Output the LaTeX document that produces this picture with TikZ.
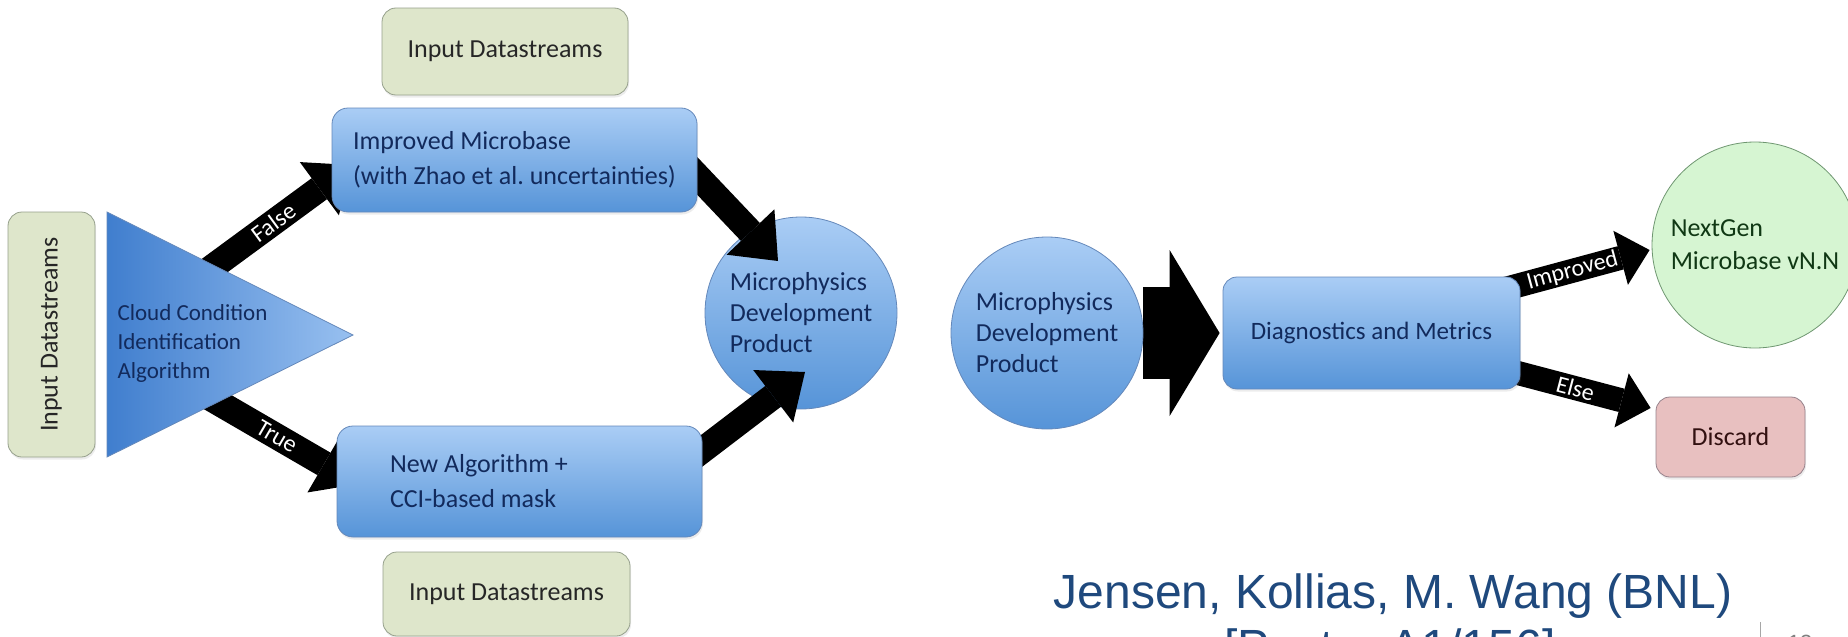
\documentclass[tikz,border=0pt]{standalone}
\usepackage{fontspec}
\setmainfont{Carlito}
\newfontfamily\creditfont{Liberation Sans}
\usetikzlibrary{arrows.meta, positioning, calc, shadows}
\definecolor{mbtop}{RGB}{170,205,245}
\definecolor{mbbot}{RGB}{86,148,216}
\definecolor{mbline}{RGB}{100,136,186}
\definecolor{navytext}{RGB}{18,42,92}
\definecolor{cclleft}{RGB}{64,126,206}
\definecolor{cclright}{RGB}{152,192,240}
\definecolor{inputfill}{RGB}{222,230,203}
\definecolor{inputline}{RGB}{150,160,140}
\definecolor{nextfill}{RGB}{214,245,210}
\definecolor{nextline}{RGB}{110,150,112}
\definecolor{nexttext}{RGB}{16,56,20}
\definecolor{discfill}{RGB}{232,192,192}
\definecolor{discline}{RGB}{150,130,140}
\definecolor{disctext}{RGB}{50,16,16}
\definecolor{bnlblue}{RGB}{31,73,125}
\pgfdeclarelayer{under}
\pgfdeclarelayer{over}
\pgfsetlayers{under,main,over}

\begin{document}
\begin{tikzpicture}[x=1pt, y=-1pt,
  inbox/.style={draw=inputline, fill=inputfill, rounded corners=14pt, line width=0.8pt, text=black!85,
    font=\fontsize{26}{32}\selectfont, drop shadow={opacity=0.15, shadow xshift=1pt, shadow yshift=-2.5pt}},
  mbbox/.style={draw=mbline, top color=mbtop, bottom color=mbbot, rounded corners=16pt, line width=0.8pt,
    text=navytext, align=left, font=\fontsize{26}{35}\selectfont,
    drop shadow={opacity=0.15, shadow xshift=1pt, shadow yshift=-2.5pt}},
  mbcirc/.style={circle, draw=mbline, top color=mbtop, bottom color=mbbot, line width=0.8pt, text=navytext,
    align=left, inner sep=2pt, minimum size=192pt, font=\fontsize{26}{31}\selectfont},
  fatarrow/.style={line width=26pt, -{Triangle[length=40pt, width=66pt, line width=0pt]}},
  thinarrow/.style={line width=24pt, -{Triangle[length=30pt, width=56pt, line width=0pt]}},
  armlabel/.style={midway, sloped, text=white, inner sep=0pt, font=\fontsize{24}{24}\selectfont},
]
  \useasboundingbox (0,0) rectangle (1848,637);

  % Inputs
  \node[inbox, rotate=90, minimum width=245pt, minimum height=87pt] (inLeft) at (51.5,334.5) {Input Datastreams};
  \node[inbox, minimum width=246pt, minimum height=87pt] (inTop) at (505,51.5) {Input Datastreams};
  \node[inbox, minimum width=247pt, minimum height=84pt] (inBot) at (506.5,594) {Input Datastreams};

  % CCI triangle
  \coordinate (triA) at (107,212);
  \coordinate (triB) at (107,457);
  \coordinate (triC) at (353,335);
  \path[draw=mbline, line width=0.8pt, left color=cclleft, right color=cclright] (triA) -- (triB) -- (triC) -- cycle;
  \node[anchor=west, text=navytext, align=left, font=\fontsize{23}{29}\selectfont] (cci) at (114,343)
    {Cloud Condition\\Identification\\Algorithm};

  % Branches
  \begin{pgfonlayer}{over}
    \node[mbbox, minimum width=365pt, minimum height=104pt] (impr) at (514.5,160)
      {Improved Microbase\\(with Zhao et al.\ uncertainties)};
    \node[mbbox, align=flush left, minimum width=365pt, minimum height=111pt, text width=259pt] (newalg) at (519.5,481.5)
      {New Algorithm +\\CCI-based mask};
  \end{pgfonlayer}

  % Products
  \node[mbcirc] (mdp1) at (801,313) {Microphysics\\Development\\Product};
  \node[mbcirc] (mdp2) at (1047,333) {Microphysics\\Development\\Product};
  \node[mbbox, align=center, minimum width=297pt, minimum height=112pt, rounded corners=14pt,
    font=\fontsize{25}{30}\selectfont] (diag) at (1371.5,333) {Diagnostics and Metrics};
  \node[circle, draw=nextline, fill=nextfill, line width=0.8pt, text=nexttext, align=left, minimum size=206pt,
    font=\fontsize{26}{33}\selectfont] (nextgen) at (1755,245) {NextGen\\Microbase vN.N};
  \node[draw=discline, fill=discfill, rounded corners=14pt, line width=0.8pt, minimum width=149pt,
    minimum height=80pt, text=disctext, font=\fontsize{26}{30}\selectfont,
    drop shadow={opacity=0.15, shadow xshift=1pt, shadow yshift=-2.5pt}] (discard) at (1730.5,437) {Discard};

  % Arrows
  \begin{pgfonlayer}{under}
    \draw[fatarrow] ($(triC)+(-158,-55)$) -- node[armlabel]{False} ($(impr.west)+(20,5)$);
    \draw[fatarrow] ($(triC)+(-158,54)$) -- node[armlabel]{True} ($(newalg.west)+(22,2.5)$);
    \draw[line width=92pt, -{Triangle[length=50pt, width=166pt, line width=0pt]}] (mdp2) -- ($(diag.west)+(-3,0)$);
    \draw[thinarrow] ($(diag.north east)+(-25,15)$) -- node[armlabel]{Improved} ($(nextgen.west)+(-2,5)$);
    \draw[thinarrow] ($(diag.south east)+(-20,-21)$) -- node[armlabel]{Else} ($(discard.west)+(-5,-29)$);
  \end{pgfonlayer}
  \draw[fatarrow] ($(impr.east)+(-20,-5)$) -- ($(mdp1)+(-23,-52)$);
  \draw[fatarrow] ($(newalg.east)+(-20,-16)$) -- ($(mdp1)+(4,59)$);

  % Credit
  \node[anchor=base, inner sep=0pt, text=bnlblue, font=\creditfont\fontsize{48}{48}\selectfont] (credit) at (1393,608)
    {Jensen, Kollias, M. Wang (BNL)};
  \node[anchor=base, inner sep=0pt, text=bnlblue, font=\creditfont\fontsize{48}{48}\selectfont] (poster) at (1390,663)
    {[Poster A1/156]};
  \draw[gray!70, line width=1pt] (1760,622) -- (1760,645);
  \node[anchor=base, inner sep=0pt, text=gray, font=\creditfont\fontsize{22}{22}\selectfont] (pagenum) at (1800,650) {13};
\end{tikzpicture}
\end{document}
